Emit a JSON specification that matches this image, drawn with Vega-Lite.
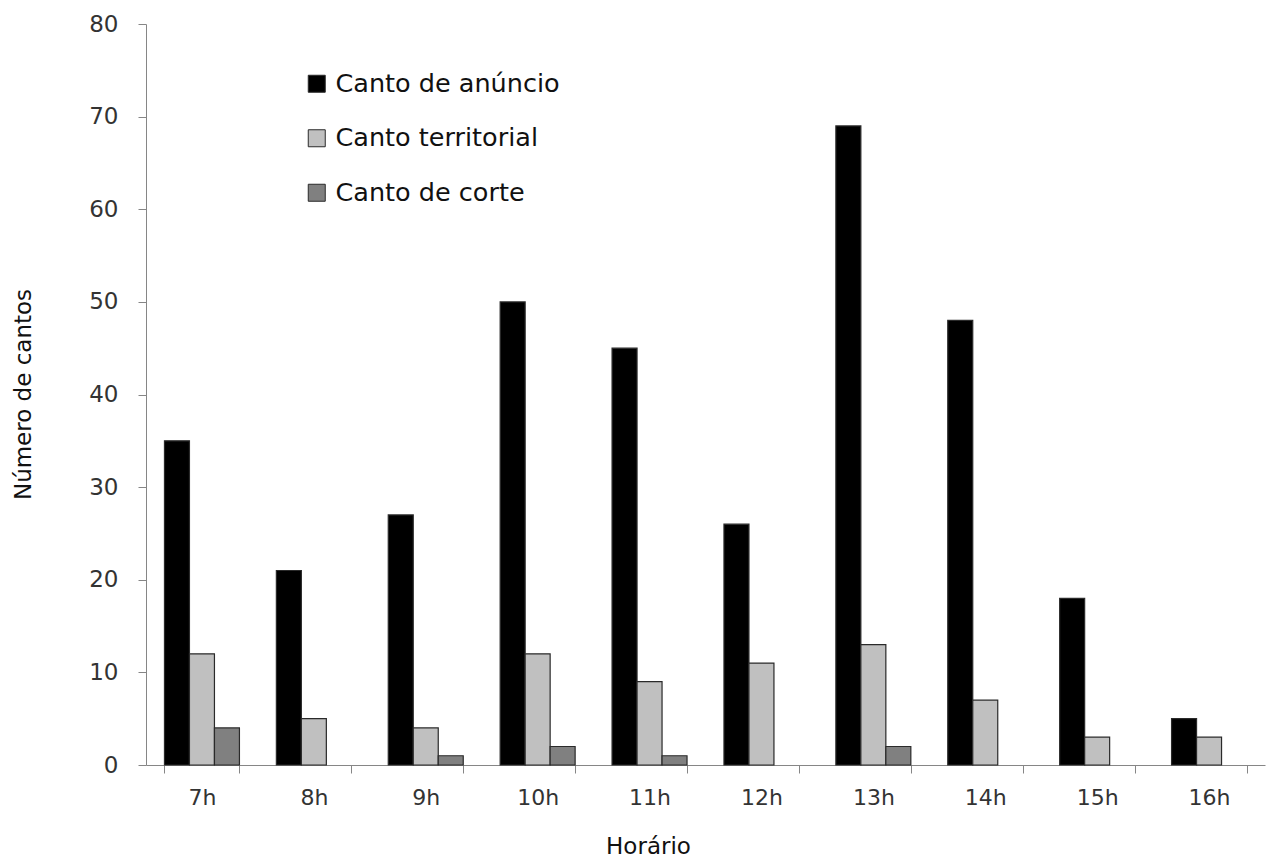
{
  "$schema": "https://vega.github.io/schema/vega-lite/v6.json",
  "width": 1119,
  "height": 741,
  "autosize": {"type": "none"},
  "padding": {"left": 146, "top": 24, "right": 12, "bottom": 94},
  "background": "white",
  "config": {
    "font": "DejaVu Sans",
    "view": {"stroke": null},
    "axis": {"grid": false, "domainColor": "#868686", "tickColor": "#868686", "labelColor": "#333333", "titleColor": "#111111", "labelFont": "DejaVu Sans", "titleFont": "DejaVu Sans"}
  },
  "data": {
    "values": [
      {"hora": "7h", "tipo": "Canto de anúncio", "n": 35},
      {"hora": "7h", "tipo": "Canto territorial", "n": 12},
      {"hora": "7h", "tipo": "Canto de corte", "n": 4},
      {"hora": "8h", "tipo": "Canto de anúncio", "n": 21},
      {"hora": "8h", "tipo": "Canto territorial", "n": 5},
      {"hora": "9h", "tipo": "Canto de anúncio", "n": 27},
      {"hora": "9h", "tipo": "Canto territorial", "n": 4},
      {"hora": "9h", "tipo": "Canto de corte", "n": 1},
      {"hora": "10h", "tipo": "Canto de anúncio", "n": 50},
      {"hora": "10h", "tipo": "Canto territorial", "n": 12},
      {"hora": "10h", "tipo": "Canto de corte", "n": 2},
      {"hora": "11h", "tipo": "Canto de anúncio", "n": 45},
      {"hora": "11h", "tipo": "Canto territorial", "n": 9},
      {"hora": "11h", "tipo": "Canto de corte", "n": 1},
      {"hora": "12h", "tipo": "Canto de anúncio", "n": 26},
      {"hora": "12h", "tipo": "Canto territorial", "n": 11},
      {"hora": "13h", "tipo": "Canto de anúncio", "n": 69},
      {"hora": "13h", "tipo": "Canto territorial", "n": 13},
      {"hora": "13h", "tipo": "Canto de corte", "n": 2},
      {"hora": "14h", "tipo": "Canto de anúncio", "n": 48},
      {"hora": "14h", "tipo": "Canto territorial", "n": 7},
      {"hora": "15h", "tipo": "Canto de anúncio", "n": 18},
      {"hora": "15h", "tipo": "Canto territorial", "n": 3},
      {"hora": "16h", "tipo": "Canto de anúncio", "n": 5},
      {"hora": "16h", "tipo": "Canto territorial", "n": 3}
    ]
  },
  "mark": {"type": "bar", "stroke": "#2a2a2a", "strokeWidth": 1.2},
  "encoding": {
    "x": {
      "field": "hora",
      "type": "nominal",
      "sort": ["7h", "8h", "9h", "10h", "11h", "12h", "13h", "14h", "15h", "16h"],
      "scale": {"paddingInner": 0.33, "paddingOuter": 0.165},
      "axis": {
        "title": "Horário",
        "labelAngle": 0,
        "labelFontSize": 22,
        "labelPadding": 14,
        "tickSize": 8,
        "tickBand": "extent",
        "titleFontSize": 23,
        "titleFontWeight": "normal",
        "titleX": 502,
        "titleY": 81,
        "titleBaseline": "middle"
      }
    },
    "xOffset": {
      "field": "tipo",
      "type": "nominal",
      "scale": {"domain": ["Canto de anúncio", "Canto territorial", "Canto de corte"]}
    },
    "y": {
      "field": "n",
      "type": "quantitative",
      "scale": {"domain": [0, 80], "nice": false},
      "axis": {
        "title": "Número de cantos",
        "values": [0, 10, 20, 30, 40, 50, 60, 70, 80],
        "labelFontSize": 23,
        "labelPadding": 20,
        "tickSize": 8,
        "titleFontSize": 23,
        "titleFontWeight": "normal",
        "titleX": -123,
        "titleY": 370,
        "titleAngle": -90,
        "titleAlign": "center",
        "titleBaseline": "middle"
      }
    },
    "color": {
      "field": "tipo",
      "type": "nominal",
      "scale": {"domain": ["Canto de anúncio", "Canto territorial", "Canto de corte"], "range": ["#000000", "#c0c0c0", "#808080"]},
      "legend": {
        "title": null,
        "orient": "none",
        "legendX": 158,
        "legendY": 47,
        "padding": 0,
        "symbolType": "square",
        "symbolSize": 289,
        "symbolStrokeColor": "#2a2a2a",
        "symbolStrokeWidth": 1,
        "labelFontSize": 25.5,
        "labelLimit": 500,
        "labelColor": "#111111",
        "labelOffset": 6,
        "rowPadding": 27.5
      }
    }
  }
}
